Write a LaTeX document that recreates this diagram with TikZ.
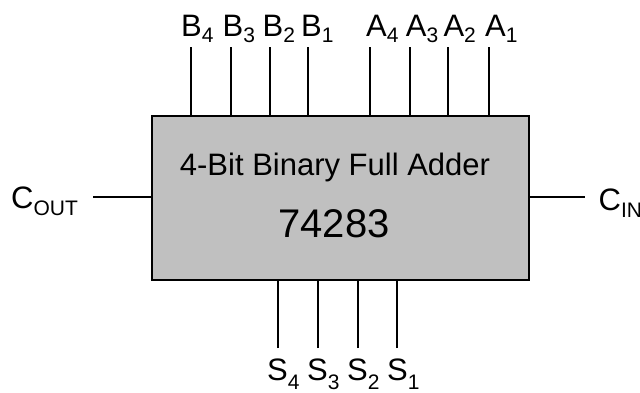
\documentclass[tikz,border=0pt]{standalone}
\usepackage{fontspec}
\setmainfont{Liberation Sans}
\definecolor{chipgray}{RGB}{192,192,192}
\newcommand\pinsub[2]{\raisebox{-#1pt}{\fontsize{21}{21}\selectfont #2}}
\begin{document}
\begin{tikzpicture}[x=1pt,y=-1pt,
  pin/.style={draw=black,line width=1.8pt},
  lbl/.style={inner sep=0pt,anchor=base west,font=\fontsize{31}{31}\selectfont},
  chipbox/.style={draw=black,line width=2pt,fill=chipgray,minimum width=377pt,minimum height=164pt,inner sep=0pt}]
\useasboundingbox (0,0) rectangle (640,392);
\node[chipbox] (chip) at (340.5,198) {};
\node[inner sep=0pt,anchor=base,font=\fontsize{31}{31}\selectfont] (title) at (335,175) {4-Bit Binary Full Adder};
\node[inner sep=0pt,anchor=base,font=\fontsize{40}{40}\selectfont] (num) at (334,237) {74283};
% top pin ends
\coordinate (pb4) at (190.7,47);
\coordinate (pb3) at (230.7,47);
\coordinate (pb2) at (270,47);
\coordinate (pb1) at (308.3,47);
\coordinate (pa4) at (370,47);
\coordinate (pa3) at (410,47);
\coordinate (pa2) at (448.3,47);
\coordinate (pa1) at (489,47);
\foreach \p in {pb4,pb3,pb2,pb1,pa4,pa3,pa2,pa1}
  \draw[pin] (\p) -- (\p |- chip.north);
% bottom pin ends
\coordinate (ps4) at (278,348);
\coordinate (ps3) at (318,348);
\coordinate (ps2) at (358,348);
\coordinate (ps1) at (397,348);
\foreach \p in {ps4,ps3,ps2,ps1}
  \draw[pin] (\p) -- (\p |- chip.south);
% side pins
\coordinate (pco) at (93,197);
\coordinate (pci) at (585,197);
\draw[pin] (pco) -- (pco -| chip.west);
\draw[pin] (chip.east |- pci) -- (pci);
% labels
\node[lbl] (lb4) at (181,36.5) {B\pinsub{6}{4}};
\node[lbl] (lb3) at (222.5,36.5) {B\pinsub{6}{3}};
\node[lbl] (lb2) at (262.5,36.5) {B\pinsub{6}{2}};
\node[lbl] (lb1) at (301,36.5) {B\pinsub{6}{1}};
\node[lbl] (la4) at (366,36.5) {A\pinsub{6}{4}};
\node[lbl] (la3) at (405.7,36.5) {A\pinsub{6}{3}};
\node[lbl] (la2) at (443.3,36.5) {A\pinsub{6}{2}};
\node[lbl] (la1) at (485,36.5) {A\pinsub{6}{1}};
\node[lbl] (ls4) at (267,380) {S\pinsub{9}{4}};
\node[lbl] (ls3) at (307,380) {S\pinsub{9}{3}};
\node[lbl] (ls2) at (347,380) {S\pinsub{9}{2}};
\node[lbl] (ls1) at (387,380) {S\pinsub{9}{1}};
\node[lbl] (lco) at (11,208) {C\pinsub{7}{OUT}};
\node[lbl] (lci) at (598.5,210) {C\pinsub{7}{IN}};
\end{tikzpicture}
\end{document}
